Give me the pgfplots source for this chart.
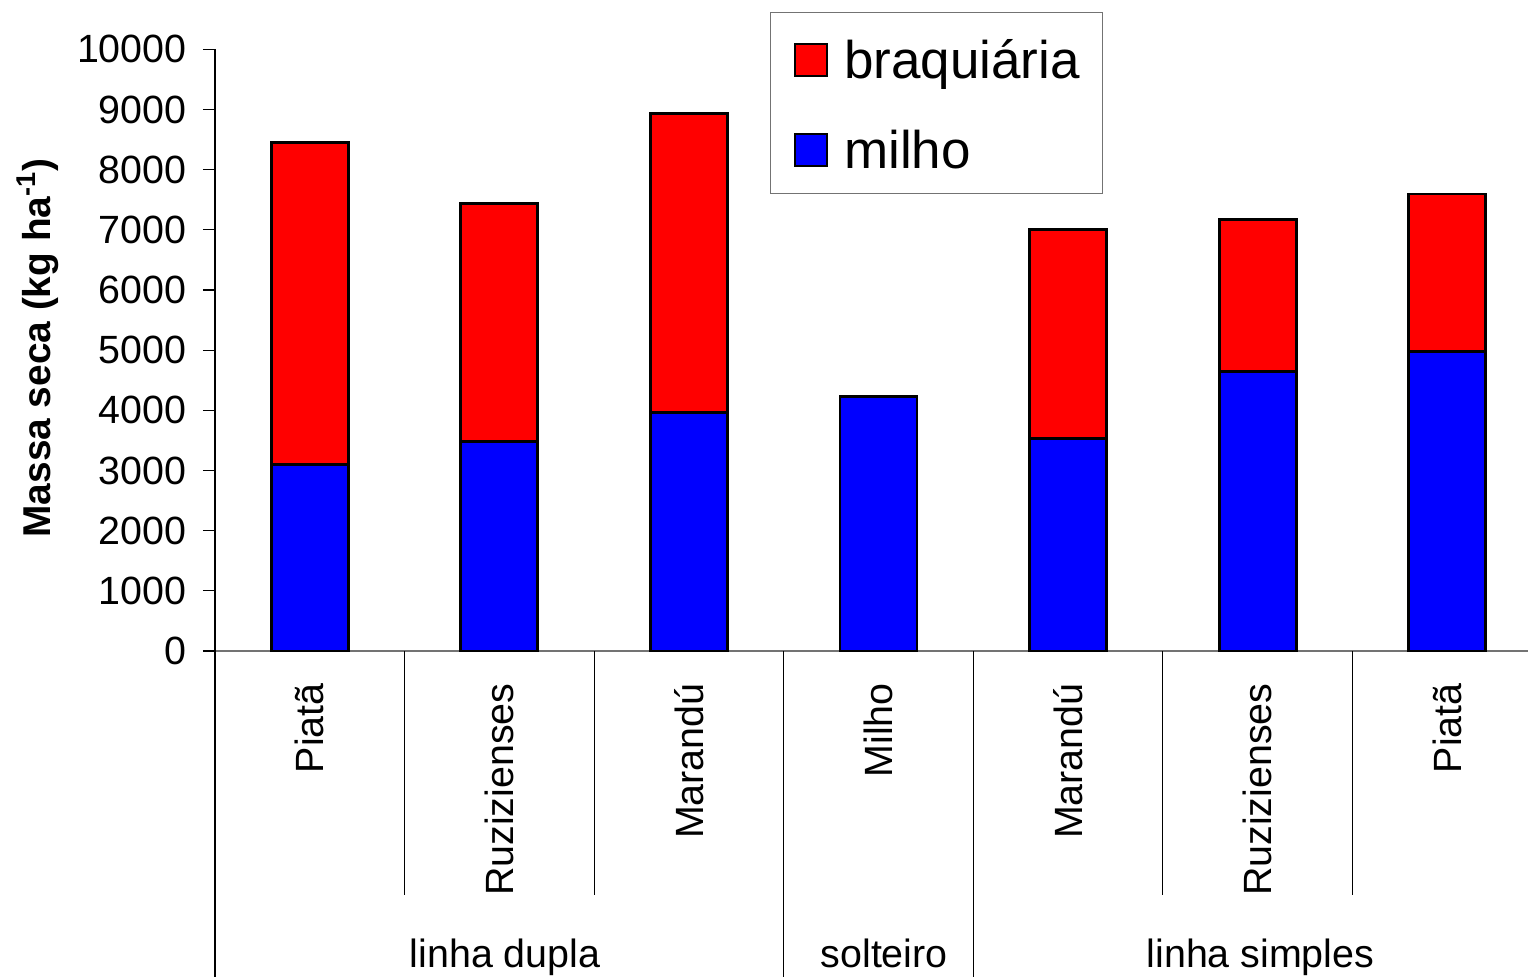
\documentclass[border=0pt]{standalone}
\usepackage{pgfplots}
\pgfplotsset{compat=1.18}
\usepackage{fontspec}
\setmainfont{Liberation Sans}
\begin{document}
\begin{tikzpicture}
\begin{axis}[
  at={(0,0)}, anchor=south west,
  scale only axis, width=663.5pt, height=300.85pt,
  xmin=-0.5, xmax=6.5, ymin=0, ymax=10000,
  ybar stacked, bar width=38.5pt,
  clip=false,
  axis x line*=bottom, axis y line*=left,
  axis line style={-, line width=0.6pt},
  x axis line style={draw=black!55},
  y axis line style={draw=black},
  xtick={0,...,6},
  xticklabels={Piatã, Ruzizienses, Marandú, Milho, Marandú, Ruzizienses, Piatã},
  xtick style={draw=none},
  xticklabel style={rotate=90, anchor=east, inner sep=0pt, font=\fontsize{19.7}{23.6}\selectfont},
  xticklabel shift=10pt,
  ytick={0,1000,...,10000},
  scaled y ticks=false,
  ytick style={draw=black, line width=0.6pt},
  tick align=outside, major tick length=6pt,
  yticklabel style={anchor=east, inner sep=0pt, font=\fontsize{19.7}{23.6}\selectfont},
  yticklabel shift=8pt,
  /pgf/number format/assume math mode=true,
  /pgf/number format/1000 sep={},
  ylabel={\bfseries Massa seca (kg ha\textsuperscript{-1})},
  ylabel style={at={(axis description cs:-0.1334,0.5036)}, anchor=center, font=\fontsize{19.4}{23}\selectfont},
  reverse legend,
  legend cell align=left,
  legend style={at={(axis description cs:0.4182,1.062)}, anchor=north west,
    draw=black!55, line width=0.6pt, inner xsep=11.5pt, inner ysep=3pt,
    row sep=5.5pt, column sep=8pt,
    font=\fontsize{26.5}{30}\selectfont,
    nodes={inner sep=0pt, text height=30pt, text depth=9.5pt}},
  legend image code/.code={\draw[#1, line width=1.3pt] (0pt,-9pt) rectangle (16pt,7pt);},
]
\addplot[fill=blue, draw=black, line width=1.4pt] coordinates {(0,3100) (1,3480) (2,3960) (3,4230) (4,3535) (5,4650) (6,4975)};
\addplot[fill=red, draw=black, line width=1.4pt] coordinates {(0,5355) (1,3960) (2,4975) (3,0) (4,3475) (5,2515) (6,2620)};
\legend{milho, braquiária}
\draw[black, line width=0.6pt] (axis cs:-0.5,0) -- ([yshift=-170pt]axis cs:-0.5,0);
\draw[black, line width=0.6pt] (axis cs:2.5,0) -- ([yshift=-170pt]axis cs:2.5,0);
\draw[black, line width=0.6pt] (axis cs:3.5,0) -- ([yshift=-170pt]axis cs:3.5,0);
\draw[black, line width=0.5pt] (axis cs:0.5,0) -- ([yshift=-122pt]axis cs:0.5,0);
\draw[black, line width=0.5pt] (axis cs:1.5,0) -- ([yshift=-122pt]axis cs:1.5,0);
\draw[black, line width=0.5pt] (axis cs:4.5,0) -- ([yshift=-122pt]axis cs:4.5,0);
\draw[black, line width=0.5pt] (axis cs:5.5,0) -- ([yshift=-122pt]axis cs:5.5,0);
\node[anchor=base, yshift=-158pt, font=\fontsize{19.7}{23.6}\selectfont] at (axis cs:1.03,0) {linha dupla};
\node[anchor=base, yshift=-158pt, font=\fontsize{19.7}{23.6}\selectfont] at (axis cs:3.03,0) {solteiro};
\node[anchor=base, yshift=-158pt, font=\fontsize{19.7}{23.6}\selectfont] at (axis cs:5.015,0) {linha simples};
\end{axis}
\pgfresetboundingbox
\path[use as bounding box] (-107.5pt,-162.5pt) rectangle (656.5pt,325.5pt);
\end{tikzpicture}
\end{document}
